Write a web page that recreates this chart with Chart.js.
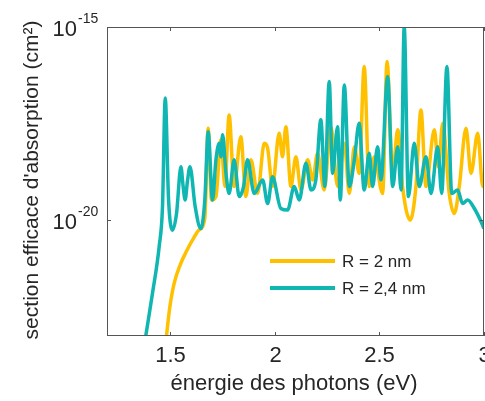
<!DOCTYPE html>
<html>
<head>
<meta charset="utf-8">
<script src="https://cdn.jsdelivr.net/npm/chart.js@4.4.0/dist/chart.umd.min.js"></script>
<style>
  body { margin: 0; background: #fff; }
  #wrap { width: 485px; height: 401px; }
</style>
</head>
<body>
<div id="wrap"><canvas id="chart"></canvas></div>
<script>
// énergie (eV) et log10 de la section efficace
var energie2 = [1.484, 1.490, 1.500, 1.520, 1.550, 1.580, 1.610, 1.640, 1.667, 1.683, 1.699, 1.720, 1.744, 1.763, 1.783, 1.807, 1.839, 1.863, 1.887, 1.919, 1.951, 1.967, 1.990, 2.022, 2.038, 2.054, 2.078, 2.102, 2.126, 2.158, 2.182, 2.205, 2.237, 2.269, 2.301, 2.333, 2.357, 2.381, 2.404, 2.428, 2.452, 2.476, 2.516, 2.537, 2.564, 2.588, 2.611, 2.648, 2.675, 2.699, 2.723, 2.763, 2.782, 2.803, 2.834, 2.858, 2.882, 2.914, 2.938, 2.970, 2.994, 3.0];
var logSigma2 = [-23.0, -22.7, -22.25, -21.65, -21.15, -20.8, -20.5, -20.25, -19.95, -17.62, -19.48, -19.39, -17.92, -19.13, -17.28, -19.13, -17.84, -19.39, -18.44, -19.31, -18.01, -18.14, -19.13, -17.75, -18.36, -17.58, -19.13, -18.36, -19.22, -18.44, -18.96, -18.27, -19.22, -17.58, -19.13, -18.01, -19.31, -18.10, -18.79, -16.02, -19.13, -18.36, -19.31, -15.89, -18.79, -17.66, -19.13, -20.0, -19.13, -17.15, -19.13, -17.66, -18.62, -17.49, -19.31, -19.83, -19.13, -17.62, -18.79, -17.75, -19.13, -18.88];

var energie24 = [1.385, 1.417, 1.449, 1.465, 1.478, 1.494, 1.513, 1.532, 1.553, 1.563, 1.573, 1.584, 1.596, 1.621, 1.648, 1.667, 1.683, 1.704, 1.720, 1.736, 1.744, 1.752, 1.768, 1.783, 1.807, 1.831, 1.852, 1.871, 1.903, 1.943, 1.967, 1.990, 2.030, 2.062, 2.094, 2.118, 2.150, 2.174, 2.197, 2.221, 2.240, 2.261, 2.277, 2.301, 2.314, 2.333, 2.357, 2.381, 2.404, 2.428, 2.452, 2.468, 2.492, 2.508, 2.540, 2.564, 2.588, 2.604, 2.619, 2.639, 2.667, 2.691, 2.723, 2.747, 2.779, 2.798, 2.823, 2.846, 2.874, 2.898, 2.922, 2.954, 2.986, 3.0];
var logSigma24 = [-23.0, -21.90, -20.69, -19.65, -16.84, -19.48, -20.26, -19.83, -18.62, -19.1, -19.48, -19.0, -18.62, -19.65, -20.22, -19.48, -17.71, -19.48, -18.44, -18.01, -18.36, -17.79, -18.79, -19.31, -18.44, -19.39, -19.13, -18.44, -19.31, -18.96, -19.57, -18.88, -19.70, -19.74, -19.13, -19.48, -18.53, -19.22, -18.96, -17.40, -19.13, -16.41, -18.79, -17.58, -19.48, -16.50, -19.13, -18.44, -17.49, -19.22, -18.27, -19.13, -18.10, -18.96, -16.28, -19.13, -18.10, -19.22, -15.0, -19.39, -18.01, -19.13, -18.36, -19.31, -18.10, -19.31, -16.02, -19.31, -19.22, -19.57, -19.48, -19.70, -20.04, -20.22];

var xTicks = [1.5, 2, 2.5, 3];
var yTicks = [-15, -20];   // exposants affichés
var labels = ['R = 2 nm', 'R = 2,4 nm'];
var couleurs = ['#FFC000', '#10B6B2'];

function toPoints(xs, logs) {
    return xs.map(function (x, i) { return { x: x, y: Math.pow(10, logs[i]) }; });
}

var txt = '#262626';
var police = 'Arial, "Liberation Sans", sans-serif';

// dessin des axes, graduations, titres et légende
var decor = {
    id: 'decor',
    afterDraw: function (chart) {
        var ctx = chart.ctx;
        var a = chart.chartArea;
        var sx = chart.scales.x, sy = chart.scales.y;
        ctx.save();
        ctx.strokeStyle = '#555';
        ctx.lineWidth = 1;
        ctx.strokeRect(a.left + 0.5, a.top + 0.5, a.right - a.left - 1, a.bottom - a.top - 1);

        ctx.fillStyle = txt;
        ctx.textAlign = 'center';
        ctx.textBaseline = 'middle';
        ctx.font = '22px ' + police;
        xTicks.forEach(function (t) {
            var px = Math.round(sx.getPixelForValue(t)) + 0.5;
            ctx.beginPath();
            ctx.moveTo(px, a.bottom); ctx.lineTo(px, a.bottom - 4);
            ctx.moveTo(px, a.top); ctx.lineTo(px, a.top + 4);
            ctx.stroke();
            ctx.fillText(String(t), px, a.bottom + 20);
        });
        yTicks.forEach(function (e) {
            var py = Math.round(sy.getPixelForValue(Math.pow(10, e))) + 0.5;
            ctx.beginPath();
            ctx.moveTo(a.left, py); ctx.lineTo(a.left + 4, py);
            ctx.moveTo(a.right, py); ctx.lineTo(a.right - 4, py);
            ctx.stroke();
            ctx.textAlign = 'right';
            ctx.font = '22px ' + police;
            ctx.fillText('10', 77, py + 2);
            ctx.textAlign = 'left';
            ctx.font = '14px ' + police;
            ctx.fillText(String(e), 78, py - 8);
        });

        ctx.textAlign = 'center';
        ctx.font = '22px ' + police;
        ctx.fillText('énergie des photons (eV)', 294, 384);
        ctx.save();
        ctx.translate(32, 180);
        ctx.rotate(-Math.PI / 2);
        ctx.font = '21px ' + police;
        ctx.fillText("section efficace d'absorption (cm²)", 0, 0);
        ctx.restore();

        // légende
        ctx.font = '17px ' + police;
        ctx.textAlign = 'left';
        labels.forEach(function (l, i) {
            var y = 261 + i * 27;
            ctx.strokeStyle = couleurs[i];
            ctx.lineWidth = 4;
            ctx.beginPath();
            ctx.moveTo(270, y); ctx.lineTo(335, y);
            ctx.stroke();
            ctx.fillText(l, 342, y + 1);
        });
        ctx.restore();
    }
};

new Chart(document.getElementById('chart'), {
    type: 'line',
    data: {
        datasets: [
            { label: labels[0], data: toPoints(energie2, logSigma2), borderColor: couleurs[0], borderWidth: 3.5, pointRadius: 0, cubicInterpolationMode: 'monotone', order: 2 },
            { label: labels[1], data: toPoints(energie24, logSigma24), borderColor: couleurs[1], borderWidth: 3.5, pointRadius: 0, cubicInterpolationMode: 'monotone', order: 1 }
        ]
    },
    options: {
        responsive: true,
        maintainAspectRatio: false,
        animation: false,
        layout: { padding: { left: 107, top: 27, right: 1, bottom: 65 } },
        plugins: { legend: { display: false }, tooltip: { enabled: false } },
        scales: {
            x: { type: 'linear', min: 1.2, max: 3, display: false },
            y: { type: 'logarithmic', min: 1e-23, max: 1e-15, display: false }
        }
    },
    plugins: [decor]
});
</script>
</body>
</html>
